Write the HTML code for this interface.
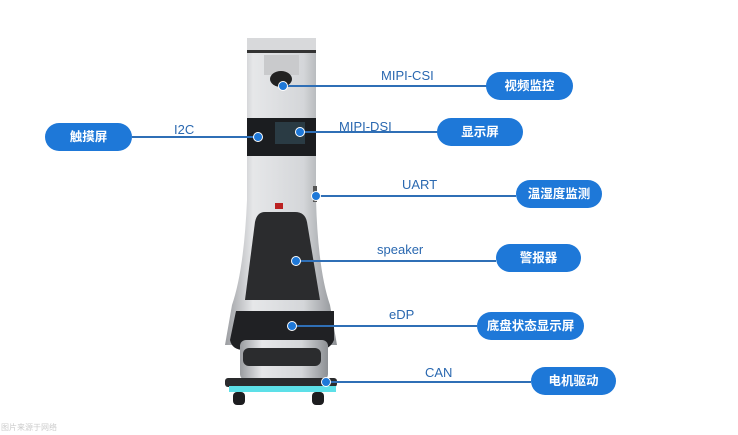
<!DOCTYPE html>
<html><head><meta charset="utf-8"><style>
body{margin:0;width:738px;height:435px;background:#fff;position:relative;overflow:hidden;font-family:"Liberation Sans","Noto Sans CJK SC",sans-serif}
.p{position:absolute;height:28px;border-radius:14px;background:#1e78d8;color:#fff;font-size:12.5px;line-height:28px;text-align:center;font-weight:bold}
.l{position:absolute;color:#2a68b0;font-size:13px}
.ln{position:absolute;height:2px;background:#2f6fb6}
.d{position:absolute;width:8px;height:8px;border-radius:50%;background:#1e78d8;border:1px solid #fff}
</style></head><body>
<svg width="738" height="435" style="position:absolute;left:0;top:0">
<defs><linearGradient id="g" x1="0" x2="1"><stop offset="0" stop-color="#9a9ca0"/><stop offset=".25" stop-color="#e6e7e9"/><stop offset=".7" stop-color="#d4d6d9"/><stop offset="1" stop-color="#8d9094"/></linearGradient></defs>
<rect x="247" y="38" width="69" height="12" fill="#d8d9db"/>
<rect x="247" y="50" width="69" height="3" fill="#333"/>
<path d="M247 53 H316 V200 Q318 270 330 305 L337 345 H225 L232 305 Q244 270 247 200 Z" fill="url(#g)"/>
<rect x="264" y="55" width="35" height="20" fill="#c9cacc"/>
<ellipse cx="281" cy="79" rx="11" ry="8" fill="#222"/>
<rect x="247" y="118" width="69" height="38" fill="#1b1d20"/>
<rect x="275" y="122" width="30" height="22" fill="#2a3b44"/>
<rect x="313" y="186" width="4" height="16" fill="#555"/>
<rect x="275" y="203" width="8" height="6" fill="#b22"/>
<path d="M265 212 H295 Q305 212 307 222 L320 300 H245 L255 222 Q257 212 265 212 Z" fill="#2b2c2e"/>
<path d="M236 311 H334 V340 Q330 350 318 350 H244 Q232 350 230 340 Z" fill="#202124"/>
<rect x="240" y="340" width="88" height="40" rx="6" fill="url(#g)"/>
<rect x="243" y="348" width="78" height="18" rx="6" fill="#2b2c2e"/>
<rect x="225" y="378" width="112" height="9" rx="3" fill="#2a2b2d"/>
<rect x="229" y="386" width="107" height="6" fill="#5de0e8"/>
<rect x="233" y="392" width="12" height="13" rx="4" fill="#1d1d1f"/>
<rect x="312" y="392" width="12" height="13" rx="4" fill="#1d1d1f"/>
</svg>
<div class="ln" style="left:283px;top:85px;width:204px"></div><div class="d" style="left:278px;top:81px"></div>
<div class="l" style="left:381px;top:68px">MIPI-CSI</div><div class="p" style="left:486px;top:72px;width:87px">视频监控</div>
<div class="ln" style="left:300px;top:131px;width:138px"></div><div class="d" style="left:295px;top:127px"></div>
<div class="l" style="left:339px;top:119px">MIPI-DSI</div><div class="p" style="left:437px;top:118px;width:86px">显示屏</div>
<div class="ln" style="left:132px;top:136px;width:126px"></div><div class="d" style="left:253px;top:132px"></div>
<div class="l" style="left:174px;top:122px">I2C</div><div class="p" style="left:45px;top:123px;width:87px">触摸屏</div>
<div class="ln" style="left:316px;top:195px;width:200px"></div><div class="d" style="left:311px;top:191px"></div>
<div class="l" style="left:402px;top:177px">UART</div><div class="p" style="left:516px;top:180px;width:86px">温湿度监测</div>
<div class="ln" style="left:296px;top:260px;width:200px"></div><div class="d" style="left:291px;top:256px"></div>
<div class="l" style="left:377px;top:242px">speaker</div><div class="p" style="left:496px;top:244px;width:85px">警报器</div>
<div class="ln" style="left:292px;top:325px;width:185px"></div><div class="d" style="left:287px;top:321px"></div>
<div class="l" style="left:389px;top:307px">eDP</div><div class="p" style="left:477px;top:312px;width:107px">底盘状态显示屏</div>
<div class="ln" style="left:326px;top:381px;width:205px"></div><div class="d" style="left:321px;top:377px"></div>
<div class="l" style="left:425px;top:365px">CAN</div><div class="p" style="left:531px;top:367px;width:85px">电机驱动</div>
<div style="position:absolute;left:1px;top:422px;font-size:8px;color:#ccc">图片来源于网络</div>
</body></html>
